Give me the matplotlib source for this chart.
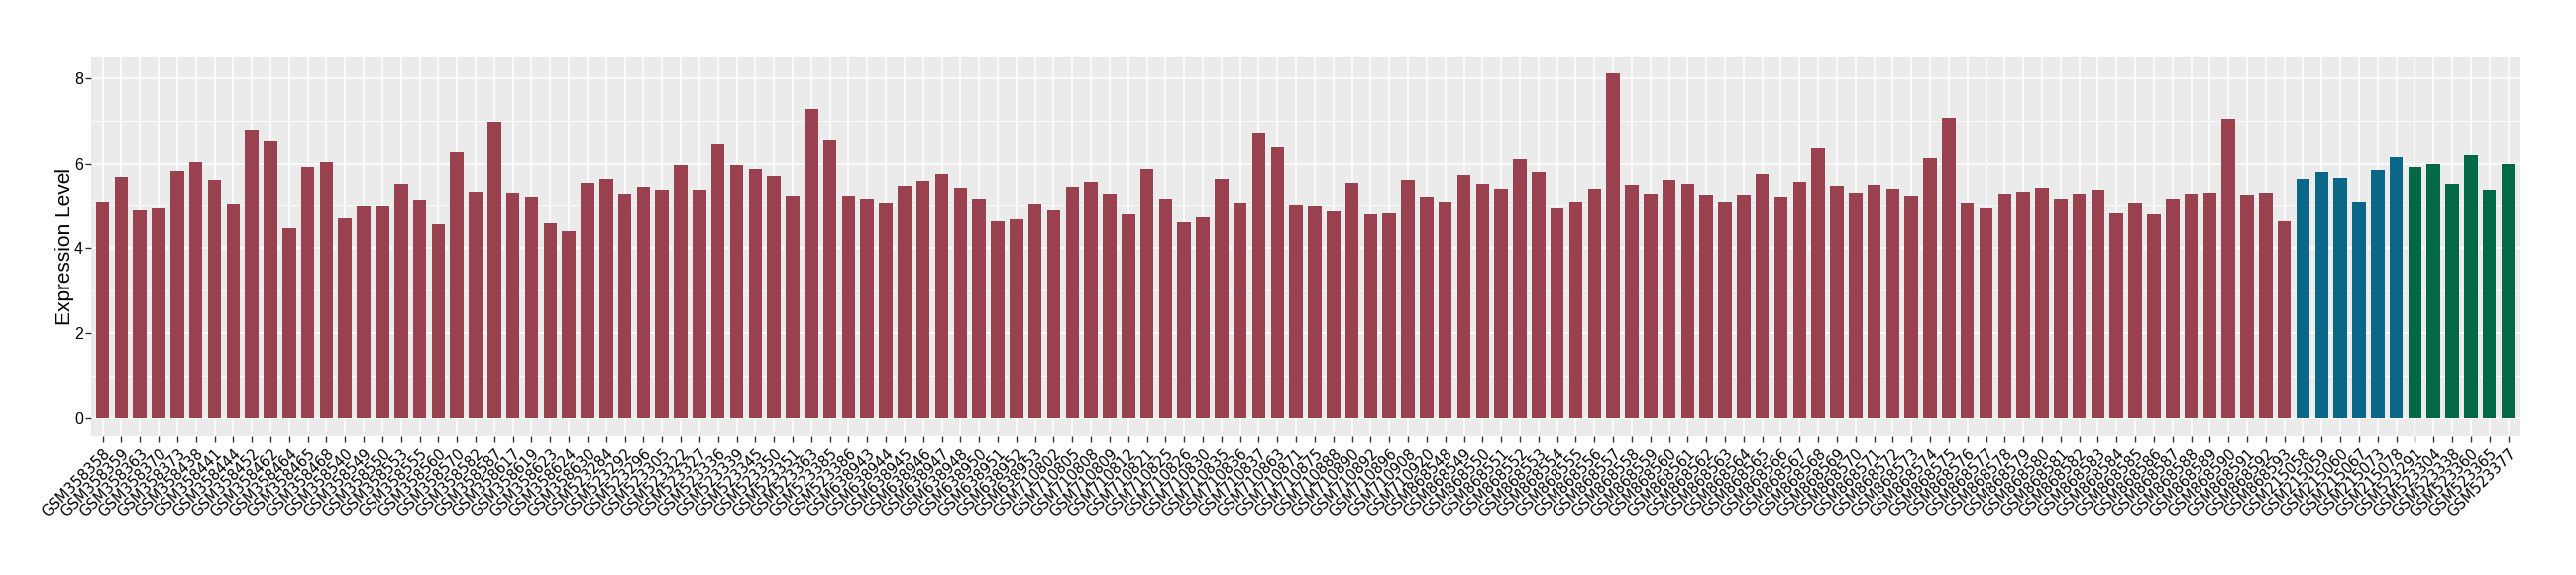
import matplotlib
matplotlib.use("Agg")
import matplotlib.pyplot as plt
from matplotlib.ticker import MultipleLocator

plt.rcParams["font.family"] = ["Liberation Sans", "DejaVu Sans"]

RED = "#9A4150"
BLUE = "#0B6787"
GREEN = "#026846"

# sample ids, in plotting order
samples_red = [
    "GSM358358", "GSM358359", "GSM358363", "GSM358370", "GSM358373", "GSM358438",
    "GSM358441", "GSM358444", "GSM358452", "GSM358462", "GSM358464", "GSM358465",
    "GSM358468", "GSM358540", "GSM358549", "GSM358550", "GSM358553", "GSM358555",
    "GSM358560", "GSM358570", "GSM358582", "GSM358587", "GSM358617", "GSM358619",
    "GSM358623", "GSM358624", "GSM358630", "GSM523284", "GSM523292", "GSM523296",
    "GSM523305", "GSM523322", "GSM523327", "GSM523336", "GSM523339", "GSM523345",
    "GSM523350", "GSM523351", "GSM523363", "GSM523385", "GSM523386", "GSM638943",
    "GSM638944", "GSM638945", "GSM638946", "GSM638947", "GSM638948", "GSM638950",
    "GSM638951", "GSM638952", "GSM638953", "GSM710802", "GSM710805", "GSM710808",
    "GSM710809", "GSM710812", "GSM710821", "GSM710825", "GSM710826", "GSM710830",
    "GSM710835", "GSM710836", "GSM710837", "GSM710863", "GSM710871", "GSM710875",
    "GSM710888", "GSM710890", "GSM710892", "GSM710896", "GSM710908", "GSM710920",
    "GSM868548", "GSM868549", "GSM868550", "GSM868551", "GSM868552", "GSM868553",
    "GSM868554", "GSM868555", "GSM868556", "GSM868557", "GSM868558", "GSM868559",
    "GSM868560", "GSM868561", "GSM868562", "GSM868563", "GSM868564", "GSM868565",
    "GSM868566", "GSM868567", "GSM868568", "GSM868569", "GSM868570", "GSM868571",
    "GSM868572", "GSM868573", "GSM868574", "GSM868575", "GSM868576", "GSM868577",
    "GSM868578", "GSM868579", "GSM868580", "GSM868581", "GSM868582", "GSM868583",
    "GSM868584", "GSM868585", "GSM868586", "GSM868587", "GSM868588", "GSM868589",
    "GSM868590", "GSM868591", "GSM868592", "GSM868593",
]
samples_blue = ["GSM215058", "GSM215059", "GSM215060", "GSM215067", "GSM215073", "GSM215078"]
samples_green = ["GSM523291", "GSM523304", "GSM523338", "GSM523360", "GSM523365", "GSM523377"]

values_red = [
    5.08, 5.66, 4.90, 4.94, 5.83, 6.03, 5.59, 5.04, 6.78, 6.52,
    4.48, 5.92, 6.03, 4.71, 4.99, 4.99, 5.50, 5.13, 4.57, 6.26,
    5.32, 6.96, 5.29, 5.20, 4.60, 4.41, 5.53, 5.61, 5.26, 5.43,
    5.36, 5.96, 5.36, 6.45, 5.96, 5.87, 5.68, 5.22, 7.26, 6.54,
    5.22, 5.15, 5.05, 5.45, 5.57, 5.73, 5.40, 5.15, 4.64, 4.68,
    5.03, 4.89, 5.43, 5.54, 5.26, 4.80, 5.87, 5.15, 4.61, 4.73,
    5.61, 5.05, 6.71, 6.38, 5.01, 4.98, 4.87, 5.52, 4.80, 4.82,
    5.59, 5.19, 5.08, 5.71, 5.50, 5.38, 6.10, 5.80, 4.94, 5.08,
    5.38, 8.10, 5.47, 5.26, 5.59, 5.50, 5.24, 5.08, 5.24, 5.73,
    5.19, 5.54, 6.36, 5.45, 5.29, 5.47, 5.38, 5.22, 6.12, 7.05,
    5.05, 4.94, 5.26, 5.31, 5.40, 5.15, 5.26, 5.36, 4.82, 5.05,
    4.80, 5.15, 5.26, 5.29, 7.03, 5.24, 5.29, 4.64,
]
values_blue = [5.61, 5.80, 5.64, 5.08, 5.84, 6.15]
values_green = [5.91, 5.98, 5.50, 6.19, 5.36, 5.98]

samples = samples_red + samples_blue + samples_green
values = values_red + values_blue + values_green
colors = [RED] * len(samples_red) + [BLUE] * len(samples_blue) + [GREEN] * len(samples_green)
xpos = list(range(len(samples)))

fig = plt.figure(figsize=(26, 5.8), dpi=100)
ax = fig.add_axes([0.0355, 0.2417, 0.9425, 0.6603])
ax.set_facecolor("#EBEBEB")
for s in ax.spines.values():
    s.set_visible(False)

ax.bar(xpos, values, width=0.72, color=colors, zorder=3)

ax.set_xlim(-0.6, len(samples) - 0.4)
ax.set_ylim(-0.405, 8.505)
ax.yaxis.set_major_locator(MultipleLocator(2))
ax.yaxis.set_minor_locator(MultipleLocator(1))
ax.grid(which="major", axis="both", color="white", lw=1.1, zorder=1)
ax.grid(which="minor", axis="y", color="white", lw=0.55, zorder=1)
ax.tick_params(which="minor", length=0)

ax.set_xticks(xpos)
ax.set_xticklabels(samples, rotation=45, ha="right", va="top",
                   rotation_mode="anchor", fontsize=10.6, color="black",
                   family=["DejaVu Sans"])
ax.tick_params(axis="both", which="major", length=4, width=1, color="#333333")
ax.tick_params(axis="y", labelsize=11.5, labelcolor="black", pad=2)
ax.tick_params(axis="x", pad=3)

ax.set_ylabel("Expression Level", fontsize=15)
ax.yaxis.set_label_coords(-0.0072, 0.5)

fig.savefig("out.png", dpi=100)
